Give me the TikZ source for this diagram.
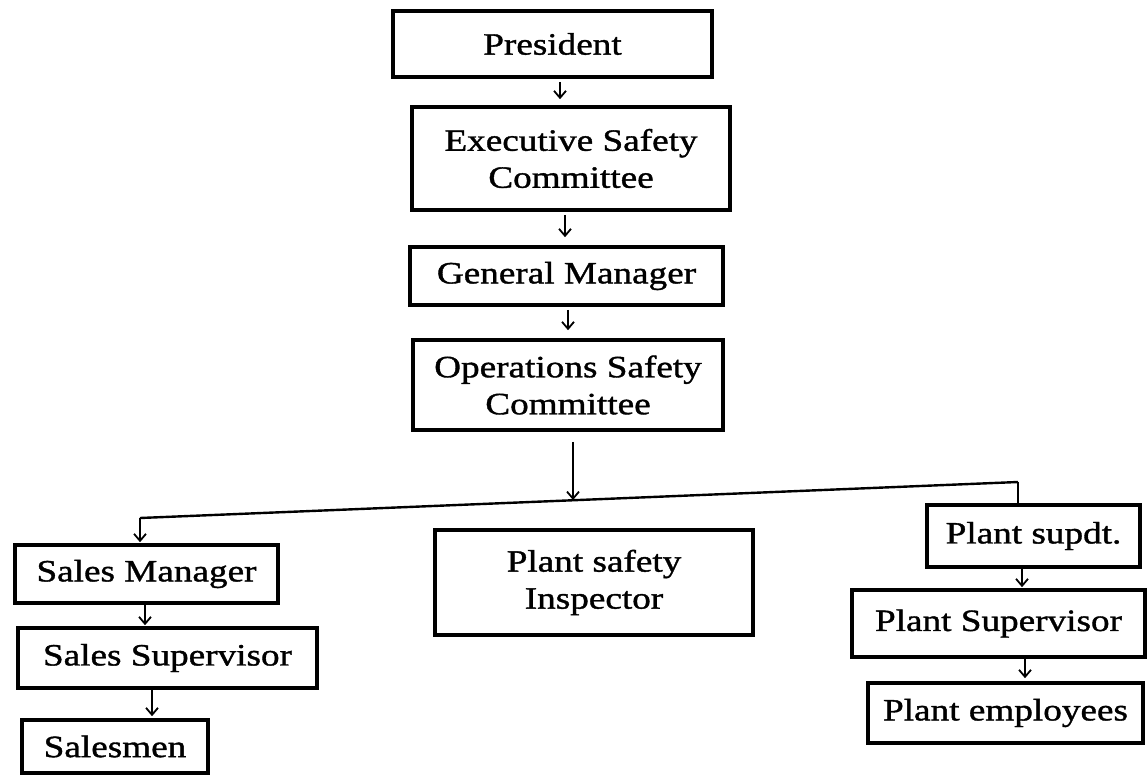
\documentclass[tikz,border=0pt]{standalone}
\usepackage{fontspec}
\setmainfont{Liberation Serif}[FakeStretch=1.2,FakeBold=1.2]
\usetikzlibrary{arrows.meta}
\begin{document}
\begin{tikzpicture}[x=1pt,y=-1pt,
  box/.style={draw=black,line width=3.6pt,inner sep=0pt,align=center,
    font=\fontsize{31}{37}\selectfont},
  arr/.style={line width=1.8pt,-{Straight Barb[length=7pt,width=12pt,line width=1.8pt]}},
  ln/.style={line width=2.4pt}]
\useasboundingbox (0,0) rectangle (1147,776);
\fill[white] (0,0) rectangle (1147,776);
\node[box,minimum width=319pt,minimum height=66pt] (pres) at (552.5,44) {President};
\node[box,minimum width=318pt,minimum height=103pt] (esc) at (571,158.5) {Executive Safety\\Committee};
\node[box,minimum width=313pt,minimum height=58pt] (gm) at (566.5,276) {General Manager};
\node[box,minimum width=310pt,minimum height=90pt] (osc) at (568,385) {Operations Safety\\Committee};
\node[box,minimum width=263pt,minimum height=58pt] (sm) at (146.5,574) {Sales Manager};
\node[box,minimum width=299pt,minimum height=60pt] (ss) at (167.5,658) {Sales Supervisor};
\node[box,minimum width=186pt,minimum height=53pt] (sal) at (115,746.5) {Salesmen};
\node[box,minimum width=318pt,minimum height=105pt] (psi) at (594,582.5) {Plant safety\\Inspector};
\node[box,minimum width=213pt,minimum height=62pt] (psu) at (1033.5,536) {Plant supdt.};
\node[box,minimum width=293pt,minimum height=67pt] (psv) at (998.5,623.5) {Plant Supervisor};
\node[box,minimum width=275pt,minimum height=60pt] (pe) at (1005.5,713) {Plant employees};
% columns for connectors
\coordinate (c1) at (560,0);
\coordinate (c2) at (565,0);
\coordinate (c3) at (568,0);
\coordinate (c4) at (145,0);
\coordinate (c5) at (152,0);
\coordinate (c6) at (1022,0);
\coordinate (c7) at (1025,0);
\coordinate (busL) at (140,518);
\coordinate (busR) at (1018,482);
\coordinate (busM) at (573,500);
\draw[arr,shorten <=3pt,shorten >=6pt] (pres.south -| c1) -- (esc.north -| c1);
\draw[arr,shorten <=3pt,shorten >=8pt] (esc.south -| c2) -- (gm.north -| c2);
\draw[arr,shorten <=3pt,shorten >=8pt] (gm.south -| c3) -- (osc.north -| c3);
\draw[arr,shorten <=10pt] (osc.south -| busM) -- (busM);
\draw[ln] (busL) -- (busR);
\draw[arr,shorten >=1pt] (busL) -- (sm.north -| busL);
\draw[arr,line width=1.8pt,-] (busR) -- (psu.north -| busR);
\draw[arr,shorten >=1pt] (sm.south -| c4) -- (ss.north -| c4);
\draw[arr,shorten >=2pt] (ss.south -| c5) -- (sal.north -| c5);
\draw[arr,shorten >=1pt] (psu.south -| c6) -- (psv.north -| c6);
\draw[arr,shorten >=3pt] (psv.south -| c7) -- (pe.north -| c7);
\end{tikzpicture}
\end{document}
